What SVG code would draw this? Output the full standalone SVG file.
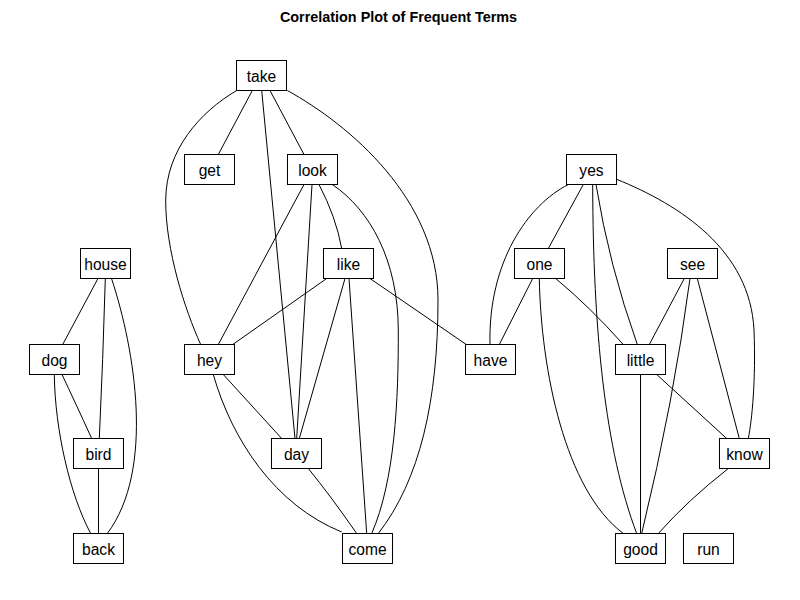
<svg xmlns="http://www.w3.org/2000/svg" width="800" height="600" viewBox="0 0 800 600">
<style>
  .edge { fill: none; stroke: #000; stroke-width: 1; }
  .node rect { fill: #fff; stroke: #000; stroke-width: 1; }
  .node text { font-family: "Liberation Sans", Arial, sans-serif; font-size: 15.6px; fill: #000; text-anchor: middle; }
  .title { font-family: "Liberation Sans", Arial, sans-serif; font-size: 14.4px; font-weight: bold; fill: #000; text-anchor: middle; }
</style>
<rect width="800" height="600" fill="#fff"/>
<text class="title" x="398.5" y="22">Correlation Plot of Frequent Terms</text>
<g id="connectors">
  <path class="edge" d="M97.7,279 L62.7,344.5"/>
  <path class="edge" d="M105.3,279 Q103,360 99.3,438.5"/>
  <path class="edge" d="M111.7,279 C135,350 155,470 107.3,533.5"/>
  <path class="edge" d="M62,374.5 Q75,402 91.7,438.5"/>
  <path class="edge" d="M54.3,374.5 C55,430 70,495 90.7,533.5"/>
  <path class="edge" d="M98.5,468.5 L98.5,533.5"/>

  <path class="edge" d="M252.3,90.5 L218.3,154.5"/>
  <path class="edge" d="M236.7,90.5 C200,112 166,150 165.7,200 C165.5,250 185,310 200.7,344.5"/>
  <path class="edge" d="M261.7,90.5 L295,438.5"/>
  <path class="edge" d="M270,90.5 L304,154.5"/>
  <path class="edge" d="M287.3,90.5 C350,125 438,200 438,300 C438,400 420,480 378.3,533.5"/>
  <path class="edge" d="M304,184.5 L218.3,344.5"/>
  <path class="edge" d="M312,184.5 L296.7,438.5"/>
  <path class="edge" d="M319,184.5 Q336,217 341.7,248.5"/>
  <path class="edge" d="M332.3,184.5 C370,210 398,260 398.3,330 C398.5,400 395,480 371.7,533.5"/>
  <path class="edge" d="M326.7,278.5 L232.7,344.5"/>
  <path class="edge" d="M345,278.5 L299.3,438.5"/>
  <path class="edge" d="M349,278.5 L366.7,533.5"/>
  <path class="edge" d="M370,278.5 L467,345"/>
  <path class="edge" d="M223.3,374.5 L281.7,438.5"/>
  <path class="edge" d="M213.3,374.5 C232,440 275,505 341.7,532"/>
  <path class="edge" d="M308.3,468.5 Q330,495 356.7,533.5"/>

  <path class="edge" d="M568.3,184.5 C528,205 488,262 490,344.5"/>
  <path class="edge" d="M583.3,184.5 L548.3,248.5"/>
  <path class="edge" d="M592.7,184.5 C593,330 605,450 636.7,533.5"/>
  <path class="edge" d="M596,184.5 Q609,265 637.3,344.5"/>
  <path class="edge" d="M616.7,179.3 C680,205 750,250 754,330 C756,380 752,420 748.3,438.5"/>
  <path class="edge" d="M532.7,278.5 L499.3,344.5"/>
  <path class="edge" d="M555.7,278.5 Q590,307 623.3,344.5"/>
  <path class="edge" d="M539.3,278.5 C541,370 565,490 623.3,533.5"/>
  <path class="edge" d="M684.3,278.5 L649.3,344.5"/>
  <path class="edge" d="M690,278.5 Q674,400 641.7,533.5"/>
  <path class="edge" d="M697.3,278.5 L739.3,438.5"/>
  <path class="edge" d="M640.5,374.5 L640.5,533.5"/>
  <path class="edge" d="M656.7,374.5 L726.7,438.5"/>
  <path class="edge" d="M728.3,468.5 Q688,500 658.3,533.5"/>
</g>

<g id="node-take" class="node"><rect x="236.5" y="60.5" width="50" height="30"/><text x="261.5" y="82">take</text></g>
<g id="node-get" class="node"><rect x="184.5" y="154.5" width="50" height="30"/><text x="209.5" y="176">get</text></g>
<g id="node-look" class="node"><rect x="287.5" y="154.5" width="50" height="30"/><text x="312.5" y="176">look</text></g>
<g id="node-yes" class="node"><rect x="566.5" y="154.5" width="50" height="30"/><text x="591.5" y="176">yes</text></g>
<g id="node-house" class="node"><rect x="80.5" y="248.5" width="50" height="30"/><text x="105.5" y="270">house</text></g>
<g id="node-like" class="node"><rect x="323.5" y="248.5" width="50" height="30"/><text x="348.5" y="270">like</text></g>
<g id="node-one" class="node"><rect x="514.5" y="248.5" width="50" height="30"/><text x="539.5" y="270">one</text></g>
<g id="node-see" class="node"><rect x="667.5" y="248.5" width="50" height="30"/><text x="692.5" y="270">see</text></g>
<g id="node-dog" class="node"><rect x="29.5" y="344.5" width="50" height="30"/><text x="54.5" y="366">dog</text></g>
<g id="node-hey" class="node"><rect x="184.5" y="344.5" width="50" height="30"/><text x="209.5" y="366">hey</text></g>
<g id="node-have" class="node"><rect x="465.5" y="344.5" width="50" height="30"/><text x="490.5" y="366">have</text></g>
<g id="node-little" class="node"><rect x="615.5" y="344.5" width="50" height="30"/><text x="640.5" y="366">little</text></g>
<g id="node-bird" class="node"><rect x="73.5" y="438.5" width="50" height="30"/><text x="98.5" y="460">bird</text></g>
<g id="node-day" class="node"><rect x="271.5" y="438.5" width="50" height="30"/><text x="296.5" y="460">day</text></g>
<g id="node-know" class="node"><rect x="719.5" y="438.5" width="50" height="30"/><text x="744.5" y="460">know</text></g>
<g id="node-back" class="node"><rect x="73.5" y="533.5" width="50" height="30"/><text x="98.5" y="555">back</text></g>
<g id="node-come" class="node"><rect x="342.5" y="533.5" width="50" height="30"/><text x="367.5" y="555">come</text></g>
<g id="node-good" class="node"><rect x="615.5" y="533.5" width="50" height="30"/><text x="640.5" y="555">good</text></g>
<g id="node-run" class="node"><rect x="683.5" y="533.5" width="50" height="30"/><text x="708.5" y="555">run</text></g>
</svg>
